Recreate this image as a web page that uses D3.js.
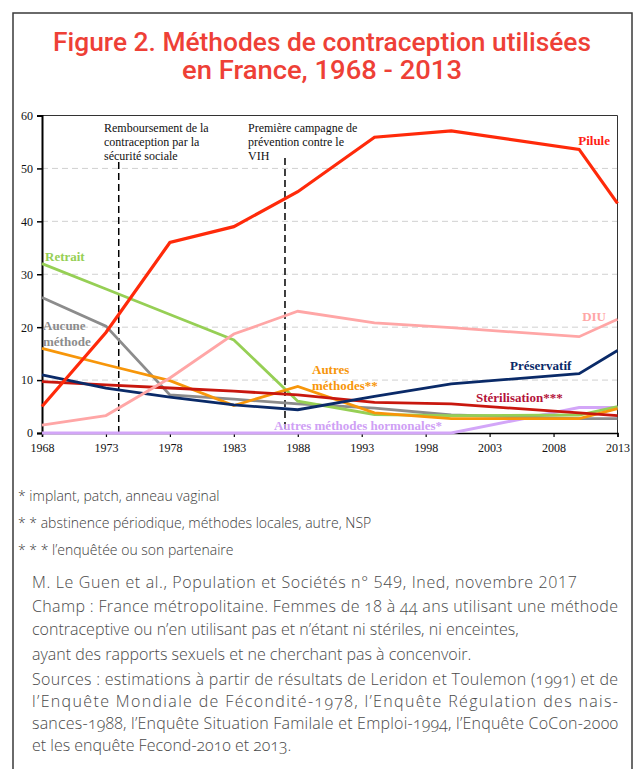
<!DOCTYPE html>
<html><head><meta charset="utf-8">
<script src="https://cdn.jsdelivr.net/npm/d3@7"></script>
<style>
html,body{margin:0;padding:0;background:#fff;}
svg{display:block;}
</style></head>
<body>
<script>
// ---- data ----
const years = [1968, 1973, 1978, 1983, 1988, 1994, 2000, 2010, 2013];
const pilule        = [5.0, 19.0, 36.0, 39.0, 45.6, 55.9, 57.1, 53.6, 43.4];
const diu           = [1.5, 3.3, 10.4, 18.7, 23.0, 20.8, 19.9, 18.2, 21.5];
const preservatif   = [11.0, 8.5, 6.8, 5.3, 4.4, 6.9, 9.3, 11.2, 15.6];
const sterilisation = [9.7, 9.1, 8.5, 7.9, 7.2, 5.8, 5.5, 3.8, 3.3];
const aucune        = [25.6, 20.2, 7.2, 6.4, 5.5, 4.7, 3.4, 2.7, 2.7];
const autres        = [16.0, 12.9, 9.9, 5.2, 8.8, 3.8, 2.7, 2.7, 4.6];
const retrait       = [32.0, 27.2, 22.4, 17.6, 6.0, 3.5, 3.3, 3.4, 5.0];
const hormonales    = [0, 0, 0, 0, 0, 0, 0, 4.8, 4.8];
const xTickYears = [1968, 1973, 1978, 1983, 1988, 1993, 1998, 2003, 2008, 2013];
const yTicks = [0, 10, 20, 30, 40, 50, 60];
const eventYears = [1974, 1987];
const eventLabels = [
  ["Remboursement de la", "contraception par la", "sécurité sociale"],
  ["Première campagne de", "prévention contre le", "VIH"]
];
const titleLines = ["Figure 2. Méthodes de contraception utilisées", "en France, 1968 - 2013"];
const notes = ["* implant, patch, anneau vaginal", "* * abstinence périodique, méthodes locales, autre, NSP", "* * * l’enquêtée ou son partenaire"];

const W = 636, H = 769;
const svg = d3.select("body").append("svg").attr("width", W).attr("height", H);

// outer frame
svg.append("rect").attr("x", 13).attr("y", 13).attr("width", 619).attr("height", 800)
  .attr("fill", "none").attr("stroke", "#3a3a3a").attr("stroke-width", 1.5);

// title
svg.selectAll("text.title").data(titleLines).join("text")
  .attr("x", 322).attr("y", (d, i) => 51 + i * 28)
  .attr("text-anchor", "middle")
  .attr("font-family", "Roboto, sans-serif").attr("font-weight", 500)
  .attr("font-size", 25).attr("fill", "#EE4036")
  .attr("textLength", (d, i) => i === 0 ? 538 : 280)
  .attr("lengthAdjust", "spacingAndGlyphs")
  .text(d => d);

// scales
const x = d3.scaleLinear().domain([1968, 2013]).range([42, 617.5]);
const y = d3.scaleLinear().domain([0, 60]).range([433, 115.5]);

const serif = "'Liberation Serif', 'Times New Roman', serif";

// gridlines
svg.append("g").selectAll("line").data(yTicks.filter(t => t > 0 && t < 60)).join("line")
  .attr("x1", x(1968)).attr("x2", x(2013)).attr("y1", d => y(d)).attr("y2", d => y(d))
  .attr("stroke", "#d0d0d0").attr("stroke-width", 1).attr("stroke-dasharray", "6,4");

// plot frame (top, right)
svg.append("path")
  .attr("d", `M${x(1968)},${y(60)}H${x(2013)}V${y(0)}`)
  .attr("fill", "none").attr("stroke", "#333").attr("stroke-width", 1);

// y axis
const yAxis = svg.append("g").attr("transform", `translate(${x(1968)},0)`)
  .call(d3.axisLeft(y).tickValues(yTicks).tickSize(5).tickPadding(4).tickFormat(d3.format("d")));
yAxis.select(".domain").attr("stroke", "#000").attr("stroke-width", 2);
yAxis.selectAll(".tick line").attr("stroke", "#000").attr("stroke-width", 1.5);
yAxis.selectAll("text").attr("font-family", serif).attr("font-size", 12).attr("fill", "#111");

// x axis
const xAxis = svg.append("g").attr("transform", `translate(0,${y(0)})`)
  .call(d3.axisBottom(x).tickValues(xTickYears).tickSize(4).tickPadding(6).tickFormat(d3.format("d")));
xAxis.select(".domain").attr("stroke", "#000").attr("stroke-width", 1.5);
xAxis.selectAll(".tick line").attr("stroke", "#000").attr("stroke-width", 1.2);
xAxis.selectAll("text").attr("font-family", serif).attr("font-size", 12).attr("fill", "#111");

// event lines
svg.append("g").selectAll("line").data(eventYears).join("line")
  .attr("x1", d => x(d)).attr("x2", d => x(d))
  .attr("y1", (d, i) => i === 0 ? 162 : 158).attr("y2", y(0))
  .attr("stroke", "#000").attr("stroke-width", 1.5).attr("stroke-dasharray", "7,4");

// event labels
eventLabels.forEach((lines, i) => {
  svg.append("g").selectAll("text").data(lines).join("text")
    .attr("x", i === 0 ? 104 : 248).attr("y", (d, j) => 132 + j * 14)
    .attr("font-family", serif).attr("font-size", 12).attr("fill", "#111")
    .text(d => d);
});

// series
const series = [
  {name: "hormonales", values: hormonales, color: "#D3A6F8", w: 3},
  {name: "aucune", values: aucune, color: "#8C8C8C", w: 2.8},
  {name: "retrait", values: retrait, color: "#96CF55", w: 2.8},
  {name: "autres", values: autres, color: "#F7960A", w: 2.8},
  {name: "sterilisation", values: sterilisation, color: "#C8170E", w: 2.8},
  {name: "preservatif", values: preservatif, color: "#0A2A68", w: 2.8},
  {name: "diu", values: diu, color: "#FFA6A6", w: 2.8},
  {name: "pilule", values: pilule, color: "#FF2A0A", w: 3.2}
];
const line = d3.line().x((d, i) => x(years[i])).y(d => y(d));
svg.append("g").selectAll("path").data(series).join("path")
  .attr("d", d => line(d.values))
  .attr("fill", "none").attr("stroke", d => d.color).attr("stroke-width", d => d.w)
  .attr("stroke-linejoin", "miter").attr("stroke-linecap", "butt");

// series labels
const labels = [
  {t: ["Pilule"], x: 610, y: 145, a: "end", c: "#FF1E14"},
  {t: ["DIU"], x: 606, y: 321, a: "end", c: "#FFA6A6"},
  {t: ["Préservatif"], x: 510, y: 370, a: "start", c: "#0A2A68"},
  {t: ["Stérilisation***"], x: 476, y: 402, a: "start", c: "#B4143A"},
  {t: ["Autres", "méthodes**"], x: 312, y: 374, a: "start", c: "#F7960A"},
  {t: ["Autres méthodes hormonales*"], x: 442, y: 430, a: "end", c: "#CFA0F5"},
  {t: ["Retrait"], x: 45, y: 261, a: "start", c: "#96CF55"},
  {t: ["Aucune", "méthode"], x: 43, y: 330, a: "start", c: "#8C8C8C"}
];
labels.forEach(l => {
  svg.append("g").selectAll("text").data(l.t).join("text")
    .attr("x", l.x).attr("y", (d, j) => l.y + j * 16)
    .attr("text-anchor", l.a)
    .attr("font-family", serif).attr("font-weight", "bold").attr("font-size", 13)
    .attr("fill", l.c).text(d => d);
});

// footnotes
const sans = "'Open Sans', sans-serif";
svg.append("g").selectAll("text").data(notes).join("text")
  .attr("x", 18).attr("y", (d, i) => 501 + i * 27)
  .attr("font-family", sans).attr("font-size", 14).attr("font-weight", 300).attr("fill", "#3c3c3c")
  .text(d => d);

const para = [
  {t: "M. Le Guen et al., Population et Sociétés n° 549, Ined, novembre 2017", y: 588, len: 545},
  {t: "Champ : France métropolitaine. Femmes de 18 à 44 ans utilisant une méthode", y: 612, len: 586},
  {t: "contraceptive ou n’en utilisant pas et n’étant ni stériles, ni enceintes,", y: 635, len: 0},
  {t: "ayant des rapports sexuels et ne cherchant pas à concenvoir.", y: 660, len: 0},
  {t: "Sources : estimations à partir de résultats de Leridon et Toulemon (1991) et de", y: 685, len: 586},
  {t: "l’Enquête Mondiale de Fécondité-1978, l’Enquête Régulation des nais-", y: 707, len: 586},
  {t: "sances-1988, l’Enquête Situation Familale et Emploi-1994, l’Enquête CoCon-2000", y: 729, len: 586},
  {t: "et les enquête Fecond-2010 et 2013.", y: 751, len: 0}
];
para.forEach((p, i) => {
  const t = svg.append("text").attr("x", 32).attr("y", p.y)
    .attr("font-family", sans).attr("font-size", 16).attr("font-weight", 300).attr("fill", "#4a4a4a")
    .style("font-variant-numeric", i === 0 ? "normal" : "oldstyle-nums")
    .text(p.t);
  if (p.len) t.attr("textLength", p.len).attr("lengthAdjust", "spacing");
});
</script>
</body></html>
